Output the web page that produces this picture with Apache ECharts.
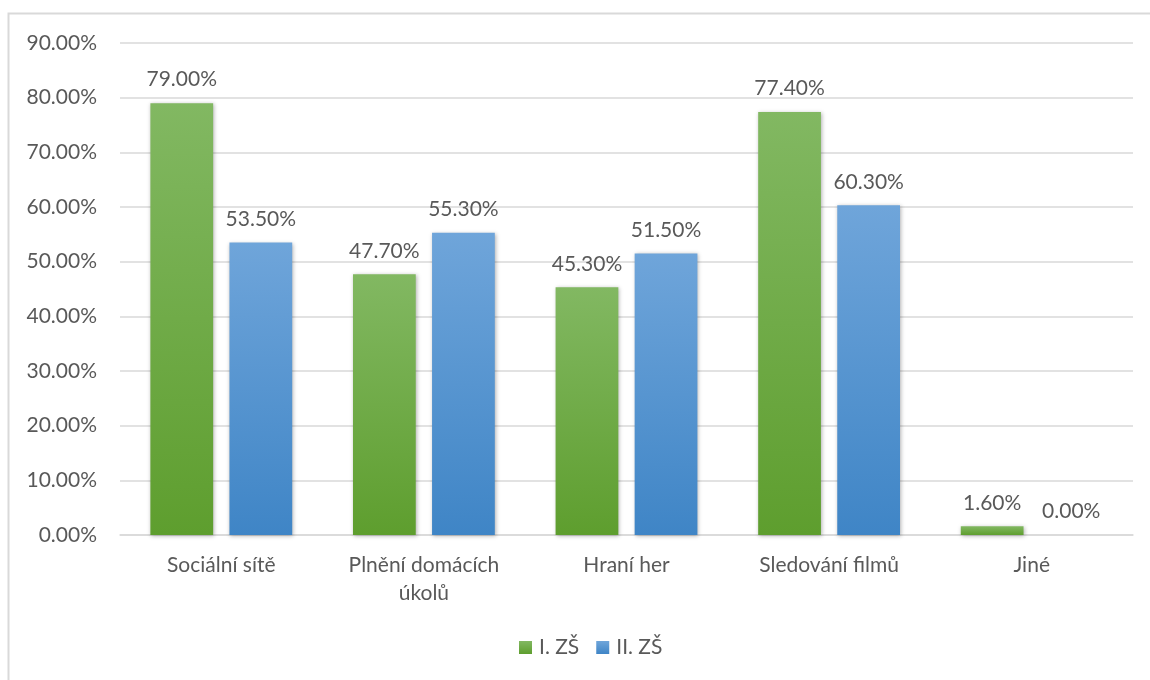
<!DOCTYPE html>
<html><head><meta charset="utf-8">
<script src="https://cdn.jsdelivr.net/npm/echarts@6/dist/echarts.min.js"></script>
<style>html,body{margin:0;padding:0;background:#fff}#c{width:1150px;height:680px}</style>
</head><body><div id="c"></div>
<script>
const categories = ['Sociální sítě', 'Plnění domácích\núkolů', 'Hraní her', 'Sledování filmů', 'Jiné'];
const seriesNames = ['I. ZŠ', 'II. ZŠ'];
const valuesI = [79.0, 47.7, 45.3, 77.4, 1.6];
const valuesII = [53.5, 55.3, 51.5, 60.3, 0.0];

const chart = echarts.init(document.getElementById('c'));
const font = 'Lato, "Open Sans", sans-serif';
const txt = '#595959';
const fs = 21;
function grad(top, bottom) {
  return new echarts.graphic.LinearGradient(0, 0, 0, 1, [{offset: 0, color: top}, {offset: 1, color: bottom}]);
}
const labelCfg = {show: true, position: 'top', distance: 13, color: txt, fontFamily: font, fontSize: fs,
  formatter: p => p.value.toFixed(2) + '%'};
chart.setOption({
  animation: false,
  textStyle: {fontFamily: font},
  graphic: [{type: 'polyline', shape: {points: [[8.5, 690], [8.5, 13.5], [1160, 13.5]]},
    style: {stroke: '#d9d9d9', lineWidth: 2, fill: null}, silent: true}],
  grid: {left: 120, right: 17, top: 43, bottom: 145, containLabel: false},
  legend: {bottom: 17, left: 514, itemWidth: 13, itemHeight: 13, itemGap: 17,
    icon: 'rect', textStyle: {color: txt, fontFamily: font, fontSize: fs, padding: [0, 0, 0, 2]}, data: seriesNames},
  xAxis: {type: 'category', data: categories,
    axisLine: {lineStyle: {color: '#d9d9d9', width: 1.5}}, axisTick: {show: false},
    axisLabel: {color: txt, fontFamily: font, fontSize: fs, margin: 16, lineHeight: 28, interval: 0}},
  yAxis: {type: 'value', min: 0, max: 90, interval: 10,
    axisLine: {show: false}, axisTick: {show: false},
    splitLine: {lineStyle: {color: '#d9d9d9', width: 1.5}},
    axisLabel: {color: txt, fontFamily: font, fontSize: fs, margin: 23,
      formatter: v => v.toFixed(2) + '%'}},
  series: [
    {name: seriesNames[0], type: 'bar', data: valuesI, barGap: '26%', barCategoryGap: '30%',
      itemStyle: {color: grad('#82b862', '#5e9e2e'), shadowColor: 'rgba(0,0,0,0.3)', shadowBlur: 4, shadowOffsetX: 1, shadowOffsetY: 1},
      label: labelCfg},
    {name: seriesNames[1], type: 'bar', data: valuesII,
      itemStyle: {color: grad('#6fa5da', '#3f85c6'), shadowColor: 'rgba(0,0,0,0.3)', shadowBlur: 4, shadowOffsetX: 1, shadowOffsetY: 1},
      label: labelCfg}
  ]
});
</script></body></html>
